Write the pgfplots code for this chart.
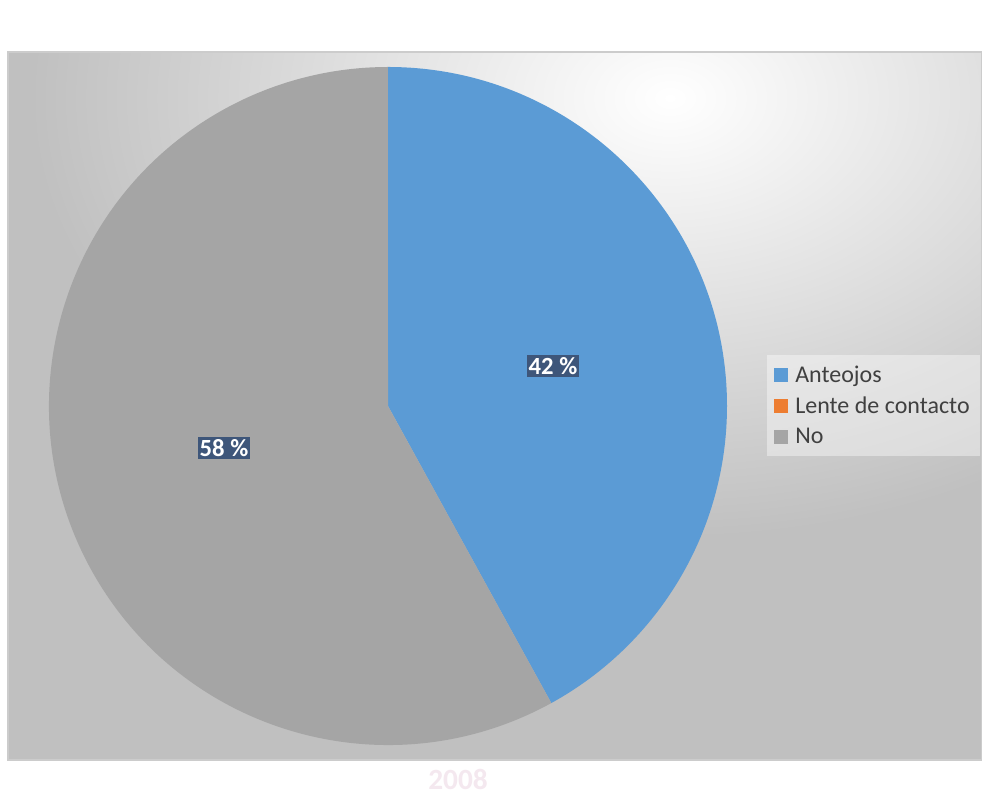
\documentclass[border=0pt]{standalone}
\usepackage{pgfplots}
\usepackage{pgfplotstable}
\pgfplotsset{compat=1.18}
\usepackage{fontspec}
\setmainfont{Carlito}
\definecolor{cAnte}{RGB}{91,155,213}
\definecolor{cLente}{RGB}{237,125,49}
\definecolor{cNo}{RGB}{165,165,165}
\definecolor{bgGray}{RGB}{192,192,192}
\definecolor{lblBox}{RGB}{62,86,122}
\definecolor{txtGray}{RGB}{64,64,64}
\definecolor{wm}{RGB}{244,232,239}

\pgfplotstableread{
label value
Anteojos 42
Lente 0
No 58
}\piedata

\begin{document}
\begin{tikzpicture}
\pgfplotstablegetelem{0}{value}\of\piedata \let\vA\pgfplotsretval
\pgfplotstablegetelem{1}{value}\of\piedata \let\vB\pgfplotsretval
\pgfplotstablegetelem{2}{value}\of\piedata \let\vC\pgfplotsretval
\pgfmathsetmacro{\tot}{\vA+\vB+\vC}
\pgfmathsetmacro{\aA}{90}
\pgfmathsetmacro{\aB}{90-\vA/\tot*360}
\pgfmathsetmacro{\aC}{\aB-\vB/\tot*360}
\pgfmathsetmacro{\aD}{\aC-\vC/\tot*360}
\begin{axis}[
  name=ax,
  scale only axis, width=736.5pt, height=598.5pt,
  xmin=0, xmax=982, ymin=0, ymax=798,
  hide axis, clip=false,
  legend style={at={(axis cs:767,443)}, anchor=north west,
    fill=white, fill opacity=0.4, text opacity=1, draw=none,
    font=\fontsize{18pt}{21pt}\selectfont, text=txtGray,
    row sep=5.5pt, inner xsep=5pt, inner ysep=6pt,
    nodes={inner xsep=2.5pt},
    legend cell align=left},
  legend image code/.code={\fill[#1, draw=none, fill opacity=1] (0pt,-5.2pt) rectangle (10.5pt,5.3pt); \path[draw=none, fill=none] (0pt,0pt) (13.5pt,0pt);},
]
% page background and watermark
\fill[white] (axis cs:0,0) rectangle (axis cs:982,798);
\node[text=wm, font=\bfseries\fontsize{22pt}{22pt}\selectfont] at (axis cs:458,19) {2008};
% plot area with gradient
\fill[bgGray] (axis cs:8,38) rectangle (axis cs:982,746);
\begin{scope}
\clip (axis cs:8,38) rectangle (axis cs:982,746);
\shade[inner color=white, outer color=bgGray] (axis cs:670,700) ellipse [x radius=480pt, y radius=330pt];
\end{scope}
\draw[gray!40, line width=1.2pt] (axis cs:8,38) rectangle (axis cs:982,746);
% pie slices
\fill[cAnte] (axis cs:388,392) -- ++(\aA:254.25pt) arc[start angle=\aA, end angle=\aB, radius=254.25pt] -- cycle;
\fill[cNo] (axis cs:388,392) -- ++(\aC:254.25pt) arc[start angle=\aC, end angle=\aD, radius=254.25pt] -- cycle;
% data labels
\node[fill=lblBox, text=white, font=\bfseries\fontsize{18.5pt}{19pt}\selectfont, inner xsep=1.2pt, inner ysep=2pt] at (axis cs:553,432) {\vA\ \%};
\node[fill=lblBox, text=white, font=\bfseries\fontsize{18.5pt}{19pt}\selectfont, inner xsep=1.2pt, inner ysep=2pt] at (axis cs:224,350) {\vC\ \%};
\addlegendimage{fill=cAnte}
\addlegendentry{Anteojos}
\addlegendimage{fill=cLente}
\addlegendentry{Lente de contacto}
\addlegendimage{fill=cNo}
\addlegendentry{No}
\end{axis}
\pgfresetboundingbox
\path (ax.south west) rectangle (ax.north east);
\end{tikzpicture}
\end{document}
